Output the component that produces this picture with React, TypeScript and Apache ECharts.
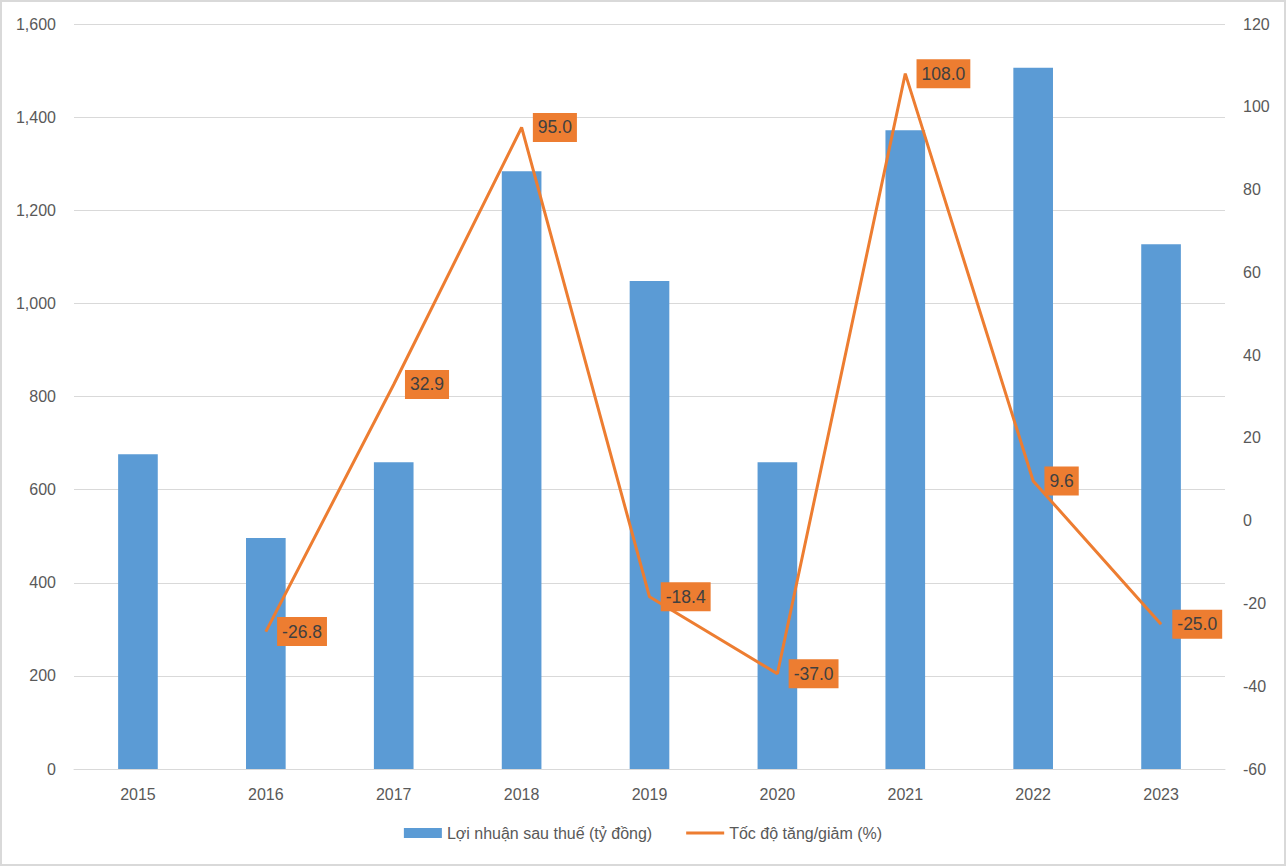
import React, { useEffect, useRef } from "react";
import * as echarts from "echarts";

const years = ["2015", "2016", "2017", "2018", "2019", "2020", "2021", "2022", "2023"];
const profit = [676, 496, 659, 1284, 1048, 659, 1372, 1506, 1127];
const growth: (number | null)[] = [null, -26.8, 32.9, 95.0, -18.4, -37.0, 108.0, 9.6, -25.0];
const profitName = "Lợi nhuận sau thuế (tỷ đồng)";
const growthName = "Tốc độ tăng/giảm (%)";

const FONT = "'Liberation Sans', 'Noto Sans', sans-serif";
const TXT = "#595959";

export default function App() {
  const ref = useRef<HTMLDivElement>(null);
  useEffect(() => {
    if (!ref.current) return;
    const chart = echarts.init(ref.current, null, { renderer: "svg" });
    chart.setOption({
      animation: false,
      backgroundColor: "#ffffff",
      textStyle: { fontFamily: FONT },
      graphic: [
        {
          type: "rect",
          shape: { x: 1, y: 1, width: 1284, height: 864 },
          style: { fill: "none", stroke: "#d9d9d9", lineWidth: 2 },
          silent: true,
        },
      ],
      grid: { left: 74, right: 61, top: 24, bottom: 97, containLabel: false },
      legend: {
        bottom: 20,
        left: "center",
        itemWidth: 38,
        itemHeight: 10,
        itemGap: 34,
        textStyle: { color: TXT, fontSize: 16, fontFamily: FONT },
        data: [
          { name: profitName, icon: "rect" },
          {
            name: growthName,
            icon: "path://M0,3.5 L38,3.5 L38,6.5 L0,6.5 Z",
            itemStyle: { color: "#ED7D31", opacity: 1 },
          },
        ],
      },
      xAxis: {
        type: "category",
        data: years,
        axisTick: { show: false },
        axisLine: { lineStyle: { color: "#d9d9d9", width: 1 } },
        axisLabel: { color: TXT, fontSize: 16, margin: 17, fontFamily: FONT },
      },
      yAxis: [
        {
          type: "value",
          min: 0,
          max: 1600,
          interval: 200,
          axisLine: { show: false },
          axisTick: { show: false },
          splitLine: { lineStyle: { color: "#d9d9d9", width: 1 } },
          axisLabel: {
            color: TXT,
            fontSize: 16,
            margin: 18,
            fontFamily: FONT,
            formatter: (v: number) => v.toLocaleString("en-US"),
          },
        },
        {
          type: "value",
          min: -60,
          max: 120,
          interval: 20,
          axisLine: { show: false },
          axisTick: { show: false },
          splitLine: { show: false },
          axisLabel: { color: TXT, fontSize: 16, margin: 18, fontFamily: FONT },
        },
      ],
      series: [
        {
          name: profitName,
          type: "bar",
          data: profit,
          barWidth: "31%",
          itemStyle: { color: "#5B9BD5" },
        },
        {
          name: growthName,
          type: "line",
          yAxisIndex: 1,
          data: growth,
          connectNulls: false,
          symbol: "circle",
          symbolSize: 0.5,
          itemStyle: { color: "#ED7D31" },
          lineStyle: { color: "#ED7D31", width: 3 },
          label: {
            show: true,
            position: "right",
            distance: 11,
            backgroundColor: "#ED7D31",
            color: "#404040",
            fontSize: 17.5,
            fontFamily: FONT,
            padding: [6, 5, 5, 5],
            formatter: (p: any) => Number(p.value).toFixed(1),
          },
        },
      ],
    });
    return () => chart.dispose();
  }, []);
  return (
    <div
      ref={ref}
      style={{ position: "fixed", left: 0, top: 0, width: 1286, height: 866 }}
    />
  );
}
